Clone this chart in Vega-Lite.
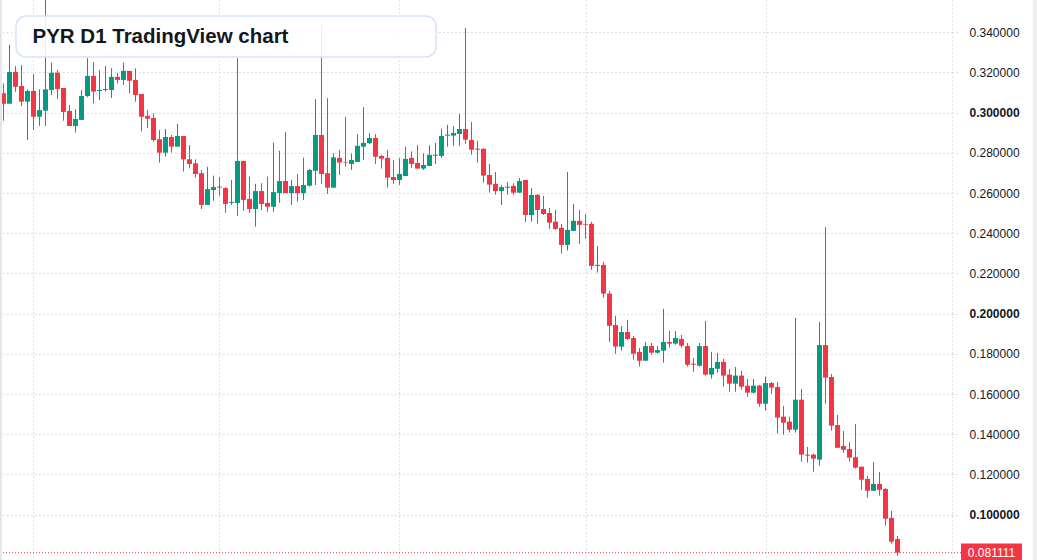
{
  "$schema": "https://vega.github.io/schema/vega-lite/v6.json",
  "width": 952,
  "height": 560,
  "autosize": {"type": "none"},
  "padding": {"left": 0, "top": 0, "right": 85, "bottom": 0},
  "background": "#ffffff",
  "config": {"view": {"stroke": null}},
  "data": {"values": [
    {"day":1,"open":0.3097,"high":0.3146,"low":0.2960,"close":0.3045},
    {"day":2,"open":0.3045,"high":0.3337,"low":0.3045,"close":0.3203},
    {"day":3,"open":0.3203,"high":0.3232,"low":0.3104,"close":0.3129},
    {"day":4,"open":0.3133,"high":0.3237,"low":0.3033,"close":0.3055},
    {"day":5,"open":0.3055,"high":0.3116,"low":0.2864,"close":0.3108},
    {"day":6,"open":0.3108,"high":0.3192,"low":0.2914,"close":0.2980},
    {"day":7,"open":0.2980,"high":0.3116,"low":0.2934,"close":0.3013},
    {"day":8,"open":0.3010,"high":0.3561,"low":0.2934,"close":0.3116},
    {"day":9,"open":0.3113,"high":0.3249,"low":0.3088,"close":0.3199},
    {"day":10,"open":0.3199,"high":0.3212,"low":0.3068,"close":0.3118},
    {"day":11,"open":0.3123,"high":0.3123,"low":0.2960,"close":0.3004},
    {"day":12,"open":0.3009,"high":0.3039,"low":0.2934,"close":0.2934},
    {"day":13,"open":0.2934,"high":0.3017,"low":0.2901,"close":0.2969},
    {"day":14,"open":0.2964,"high":0.3113,"low":0.2964,"close":0.3083},
    {"day":15,"open":0.3083,"high":0.3271,"low":0.3077,"close":0.3183},
    {"day":16,"open":0.3183,"high":0.3251,"low":0.3047,"close":0.3105},
    {"day":17,"open":0.3108,"high":0.3212,"low":0.3063,"close":0.3113},
    {"day":18,"open":0.3113,"high":0.3232,"low":0.3104,"close":0.3118},
    {"day":19,"open":0.3113,"high":0.3221,"low":0.3073,"close":0.3178},
    {"day":20,"open":0.3178,"high":0.3198,"low":0.3146,"close":0.3163},
    {"day":21,"open":0.3163,"high":0.3249,"low":0.3138,"close":0.3208},
    {"day":22,"open":0.3208,"high":0.3208,"low":0.3097,"close":0.3159},
    {"day":23,"open":0.3163,"high":0.3221,"low":0.3055,"close":0.3088},
    {"day":24,"open":0.3093,"high":0.3093,"low":0.2906,"close":0.2980},
    {"day":25,"open":0.2984,"high":0.3013,"low":0.2923,"close":0.2970},
    {"day":26,"open":0.2974,"high":0.2997,"low":0.2856,"close":0.2864},
    {"day":27,"open":0.2868,"high":0.2914,"low":0.2752,"close":0.2801},
    {"day":28,"open":0.2801,"high":0.2919,"low":0.2781,"close":0.2879},
    {"day":29,"open":0.2879,"high":0.2889,"low":0.2801,"close":0.2831},
    {"day":30,"open":0.2831,"high":0.2944,"low":0.2831,"close":0.2884},
    {"day":31,"open":0.2884,"high":0.2884,"low":0.2707,"close":0.2768},
    {"day":32,"open":0.2768,"high":0.2839,"low":0.2723,"close":0.2745},
    {"day":33,"open":0.2748,"high":0.2768,"low":0.2677,"close":0.2695},
    {"day":34,"open":0.2699,"high":0.2715,"low":0.2521,"close":0.2541},
    {"day":35,"open":0.2541,"high":0.2731,"low":0.2541,"close":0.2620},
    {"day":36,"open":0.2615,"high":0.2687,"low":0.2562,"close":0.2630},
    {"day":37,"open":0.2632,"high":0.2680,"low":0.2586,"close":0.2627},
    {"day":38,"open":0.2625,"high":0.2629,"low":0.2502,"close":0.2546},
    {"day":39,"open":0.2551,"high":0.2665,"low":0.2541,"close":0.2556},
    {"day":40,"open":0.2551,"high":0.3271,"low":0.2487,"close":0.2760},
    {"day":41,"open":0.2760,"high":0.2760,"low":0.2512,"close":0.2566},
    {"day":42,"open":0.2571,"high":0.2682,"low":0.2502,"close":0.2521},
    {"day":43,"open":0.2521,"high":0.2646,"low":0.2433,"close":0.2610},
    {"day":44,"open":0.2610,"high":0.2649,"low":0.2516,"close":0.2546},
    {"day":45,"open":0.2551,"high":0.2682,"low":0.2507,"close":0.2532},
    {"day":46,"open":0.2532,"high":0.2851,"low":0.2507,"close":0.2605},
    {"day":47,"open":0.2600,"high":0.2811,"low":0.2552,"close":0.2660},
    {"day":48,"open":0.2660,"high":0.2904,"low":0.2600,"close":0.2600},
    {"day":49,"open":0.2600,"high":0.2665,"low":0.2541,"close":0.2635},
    {"day":50,"open":0.2635,"high":0.2695,"low":0.2557,"close":0.2600},
    {"day":51,"open":0.2600,"high":0.2776,"low":0.2566,"close":0.2640},
    {"day":52,"open":0.2637,"high":0.2720,"low":0.2632,"close":0.2715},
    {"day":53,"open":0.2711,"high":0.3068,"low":0.2640,"close":0.2889},
    {"day":54,"open":0.2889,"high":0.3436,"low":0.2646,"close":0.2695},
    {"day":55,"open":0.2699,"high":0.3072,"low":0.2596,"close":0.2627},
    {"day":56,"open":0.2627,"high":0.2798,"low":0.2627,"close":0.2778},
    {"day":57,"open":0.2775,"high":0.2815,"low":0.2690,"close":0.2752},
    {"day":58,"open":0.2755,"high":0.2979,"low":0.2731,"close":0.2752},
    {"day":59,"open":0.2745,"high":0.2798,"low":0.2715,"close":0.2765},
    {"day":60,"open":0.2755,"high":0.2894,"low":0.2755,"close":0.2835},
    {"day":61,"open":0.2831,"high":0.3027,"low":0.2765,"close":0.2850},
    {"day":62,"open":0.2848,"high":0.2898,"low":0.2845,"close":0.2874},
    {"day":63,"open":0.2874,"high":0.2894,"low":0.2745,"close":0.2781},
    {"day":64,"open":0.2785,"high":0.2791,"low":0.2722,"close":0.2771},
    {"day":65,"open":0.2775,"high":0.2815,"low":0.2627,"close":0.2677},
    {"day":66,"open":0.2680,"high":0.2765,"low":0.2646,"close":0.2665},
    {"day":67,"open":0.2665,"high":0.2773,"low":0.2641,"close":0.2695},
    {"day":68,"open":0.2685,"high":0.2830,"low":0.2685,"close":0.2770},
    {"day":69,"open":0.2775,"high":0.2808,"low":0.2725,"close":0.2745},
    {"day":70,"open":0.2750,"high":0.2839,"low":0.2722,"close":0.2722},
    {"day":71,"open":0.2722,"high":0.2798,"low":0.2715,"close":0.2740},
    {"day":72,"open":0.2735,"high":0.2838,"low":0.2735,"close":0.2790},
    {"day":73,"open":0.2786,"high":0.2850,"low":0.2745,"close":0.2791},
    {"day":74,"open":0.2785,"high":0.2920,"low":0.2775,"close":0.2884},
    {"day":75,"open":0.2886,"high":0.2939,"low":0.2831,"close":0.2891},
    {"day":76,"open":0.2886,"high":0.2934,"low":0.2835,"close":0.2899},
    {"day":77,"open":0.2894,"high":0.2994,"low":0.2835,"close":0.2919},
    {"day":78,"open":0.2919,"high":0.3421,"low":0.2845,"close":0.2866},
    {"day":79,"open":0.2864,"high":0.2954,"low":0.2791,"close":0.2816},
    {"day":80,"open":0.2821,"high":0.2860,"low":0.2752,"close":0.2816},
    {"day":81,"open":0.2821,"high":0.2821,"low":0.2652,"close":0.2687},
    {"day":82,"open":0.2690,"high":0.2745,"low":0.2602,"close":0.2642},
    {"day":83,"open":0.2646,"high":0.2705,"low":0.2592,"close":0.2610},
    {"day":84,"open":0.2610,"high":0.2641,"low":0.2541,"close":0.2630},
    {"day":85,"open":0.2627,"high":0.2654,"low":0.2592,"close":0.2632},
    {"day":86,"open":0.2636,"high":0.2649,"low":0.2592,"close":0.2602},
    {"day":87,"open":0.2602,"high":0.2675,"low":0.2602,"close":0.2660},
    {"day":88,"open":0.2665,"high":0.2665,"low":0.2455,"close":0.2491},
    {"day":89,"open":0.2491,"high":0.2625,"low":0.2458,"close":0.2591},
    {"day":90,"open":0.2591,"high":0.2596,"low":0.2448,"close":0.2516},
    {"day":91,"open":0.2521,"high":0.2586,"low":0.2491,"close":0.2496},
    {"day":92,"open":0.2501,"high":0.2526,"low":0.2422,"close":0.2453},
    {"day":93,"open":0.2458,"high":0.2516,"low":0.2417,"close":0.2422},
    {"day":94,"open":0.2427,"high":0.2447,"low":0.2299,"close":0.2342},
    {"day":95,"open":0.2342,"high":0.2705,"low":0.2314,"close":0.2417},
    {"day":96,"open":0.2412,"high":0.2546,"low":0.2412,"close":0.2462},
    {"day":97,"open":0.2462,"high":0.2516,"low":0.2347,"close":0.2442},
    {"day":98,"open":0.2447,"high":0.2496,"low":0.2372,"close":0.2443},
    {"day":99,"open":0.2447,"high":0.2457,"low":0.2218,"close":0.2238},
    {"day":100,"open":0.2238,"high":0.2337,"low":0.2204,"close":0.2243},
    {"day":101,"open":0.2243,"high":0.2257,"low":0.2080,"close":0.2100},
    {"day":102,"open":0.2100,"high":0.2113,"low":0.1859,"close":0.1940},
    {"day":103,"open":0.1944,"high":0.1989,"low":0.1801,"close":0.1836},
    {"day":104,"open":0.1836,"high":0.1939,"low":0.1816,"close":0.1909},
    {"day":105,"open":0.1909,"high":0.1969,"low":0.1869,"close":0.1874},
    {"day":106,"open":0.1879,"high":0.1889,"low":0.1771,"close":0.1801},
    {"day":107,"open":0.1810,"high":0.1830,"low":0.1737,"close":0.1766},
    {"day":108,"open":0.1766,"high":0.1859,"low":0.1766,"close":0.1839},
    {"day":109,"open":0.1839,"high":0.1854,"low":0.1796,"close":0.1806},
    {"day":110,"open":0.1806,"high":0.1839,"low":0.1801,"close":0.1819},
    {"day":111,"open":0.1816,"high":0.2023,"low":0.1756,"close":0.1859},
    {"day":112,"open":0.1859,"high":0.1914,"low":0.1831,"close":0.1851},
    {"day":113,"open":0.1851,"high":0.1914,"low":0.1846,"close":0.1879},
    {"day":114,"open":0.1874,"high":0.1894,"low":0.1831,"close":0.1841},
    {"day":115,"open":0.1839,"high":0.1854,"low":0.1737,"close":0.1746},
    {"day":116,"open":0.1751,"high":0.1780,"low":0.1711,"close":0.1746},
    {"day":117,"open":0.1741,"high":0.1854,"low":0.1737,"close":0.1839},
    {"day":118,"open":0.1839,"high":0.1964,"low":0.1692,"close":0.1697},
    {"day":119,"open":0.1697,"high":0.1810,"low":0.1677,"close":0.1730},
    {"day":120,"open":0.1726,"high":0.1805,"low":0.1707,"close":0.1760},
    {"day":121,"open":0.1760,"high":0.1775,"low":0.1637,"close":0.1692},
    {"day":122,"open":0.1697,"high":0.1725,"low":0.1612,"close":0.1652},
    {"day":123,"open":0.1652,"high":0.1735,"low":0.1612,"close":0.1692},
    {"day":124,"open":0.1692,"high":0.1715,"low":0.1622,"close":0.1637},
    {"day":125,"open":0.1642,"high":0.1675,"low":0.1587,"close":0.1607},
    {"day":126,"open":0.1607,"high":0.1675,"low":0.1602,"close":0.1642},
    {"day":127,"open":0.1642,"high":0.1645,"low":0.1537,"close":0.1552},
    {"day":128,"open":0.1552,"high":0.1687,"low":0.1517,"close":0.1655},
    {"day":129,"open":0.1655,"high":0.1660,"low":0.1602,"close":0.1632},
    {"day":130,"open":0.1635,"high":0.1660,"low":0.1403,"close":0.1483},
    {"day":131,"open":0.1488,"high":0.1542,"low":0.1398,"close":0.1458},
    {"day":132,"open":0.1463,"high":0.1488,"low":0.1408,"close":0.1423},
    {"day":133,"open":0.1423,"high":0.1980,"low":0.1408,"close":0.1572},
    {"day":134,"open":0.1572,"high":0.1625,"low":0.1264,"close":0.1299},
    {"day":135,"open":0.1299,"high":0.1337,"low":0.1259,"close":0.1294},
    {"day":136,"open":0.1299,"high":0.1304,"low":0.1214,"close":0.1279},
    {"day":137,"open":0.1274,"high":0.1959,"low":0.1244,"close":0.1844},
    {"day":138,"open":0.1844,"high":0.2431,"low":0.1552,"close":0.1682},
    {"day":139,"open":0.1685,"high":0.1700,"low":0.1418,"close":0.1443},
    {"day":140,"open":0.1446,"high":0.1496,"low":0.1333,"close":0.1333},
    {"day":141,"open":0.1342,"high":0.1416,"low":0.1308,"close":0.1323},
    {"day":142,"open":0.1327,"high":0.1362,"low":0.1264,"close":0.1284},
    {"day":143,"open":0.1286,"high":0.1451,"low":0.1229,"close":0.1234},
    {"day":144,"open":0.1239,"high":0.1239,"low":0.1124,"close":0.1174},
    {"day":145,"open":0.1178,"high":0.1193,"low":0.1085,"close":0.1119},
    {"day":146,"open":0.1119,"high":0.1262,"low":0.1119,"close":0.1153},
    {"day":147,"open":0.1153,"high":0.1213,"low":0.1095,"close":0.1124},
    {"day":148,"open":0.1128,"high":0.1133,"low":0.0946,"close":0.0980},
    {"day":149,"open":0.0984,"high":0.1019,"low":0.0856,"close":0.0866},
    {"day":150,"open":0.0879,"high":0.0894,"low":0.0796,"close":0.081111}
  ]},
  "layer": [
    {
      "mark": {"type": "rule", "strokeWidth": 1, "clip": true},
      "encoding": {
        "x": {
          "field": "day", "type": "quantitative",
          "scale": {"domain": [0.416667, 159.083333], "nice": false, "zero": false, "padding": 0},
          "axis": {"orient": "bottom", "values": [6, 37, 67, 98, 128, 159.083333], "labels": false, "ticks": false, "domain": false, "title": null,
                   "grid": true, "gridColor": "#d4d6db", "gridDash": [1.5, 2.5], "gridWidth": 1}
        },
        "y": {
          "field": "low", "type": "quantitative",
          "scale": {"domain": [0.07746, 0.35607], "nice": false, "zero": false, "padding": 0},
          "axis": {"orient": "right", "values": [0.1, 0.12, 0.14, 0.16, 0.18, 0.2, 0.22, 0.24, 0.26, 0.28, 0.3, 0.32, 0.34],
                   "format": ".6f", "title": null, "domain": false,
                   "grid": true, "gridColor": "#d4d6db", "gridDash": [1.5, 2.5], "gridWidth": 1,
                   "ticks": true, "tickSize": 8, "tickColor": "#d4d6db", "tickDash": [1.5, 2.5],
                   "labelPadding": 9, "labelFont": "Liberation Sans", "labelFontSize": 12, "labelColor": "#131722",
                   "labelFontWeight": {"condition": {"test": "abs(datum.value*10 - round(datum.value*10)) < 0.001", "value": "bold"}, "value": "normal"}}
        },
        "y2": {"field": "high"},
        "color": {"condition": {"test": "datum.close >= datum.open", "value": "#089981"}, "value": "#f23645"}
      }
    },
    {
      "mark": {"type": "bar", "width": 5, "clip": true, "minBandSize": 1},
      "encoding": {
        "x": {"field": "day", "type": "quantitative"},
        "y": {"field": "open", "type": "quantitative"},
        "y2": {"field": "close"},
        "color": {"condition": {"test": "datum.close >= datum.open", "value": "#089981"}, "value": "#f23645"}
      }
    },
    {
      "transform": [{"filter": "datum.day == 150"}],
      "mark": {"type": "rule", "color": "#f23645", "strokeDash": [1, 2], "strokeWidth": 1, "clip": false},
      "encoding": {"x": {"datum": 0.416667}, "x2": {"datum": 161}, "y": {"field": "close", "type": "quantitative"}}
    },
    {
      "data": {"values": [{"kind": "price label"}]},
      "mark": {"type": "rect", "color": "#f23645", "clip": false},
      "encoding": {
        "x": {"datum": 160.583}, "x2": {"datum": 170.75},
        "y": {"datum": 0.08561}, "y2": {"datum": 0.07661}
      }
    },
    {
      "transform": [{"filter": "datum.day == 150"}],
      "mark": {"type": "text", "color": "#ffffff", "font": "Liberation Sans", "fontSize": 12, "align": "center", "baseline": "middle", "clip": false},
      "encoding": {"x": {"datum": 165.667}, "y": {"field": "close", "type": "quantitative"}, "text": {"field": "close", "type": "quantitative", "format": ".6f"}}
    },
    {
      "data": {"values": [{"kind": "title box"}]},
      "mark": {"type": "rect", "fill": "#ffffff", "fillOpacity": 0.88, "stroke": "#d6e3f6", "strokeWidth": 1.5, "cornerRadius": 10, "clip": false},
      "encoding": {
        "x": {"datum": 3.0833}, "x2": {"datum": 73.0833},
        "y": {"datum": 0.34811}, "y2": {"datum": 0.32771}
      }
    },
    {
      "data": {"values": [{"label": "PYR D1 TradingView chart"}]},
      "mark": {"type": "text", "font": "Liberation Sans", "fontSize": 20.5, "fontWeight": "bold", "color": "#131722", "align": "left", "baseline": "middle", "clip": false},
      "encoding": {"x": {"datum": 5.833}, "y": {"datum": 0.33766}, "text": {"field": "label"}}
    },
    {
      "data": {"values": [{"kind": "left border"}]},
      "mark": {"type": "rule", "color": "#e6e7ea", "strokeWidth": 2, "clip": false},
      "encoding": {"x": {"datum": 0.5833}}
    },
    {
      "data": {"values": [{"kind": "right border"}]},
      "mark": {"type": "rule", "color": "#eeeeef", "strokeWidth": 4, "clip": false},
      "encoding": {"x": {"datum": 172.917}}
    }
  ]
}
